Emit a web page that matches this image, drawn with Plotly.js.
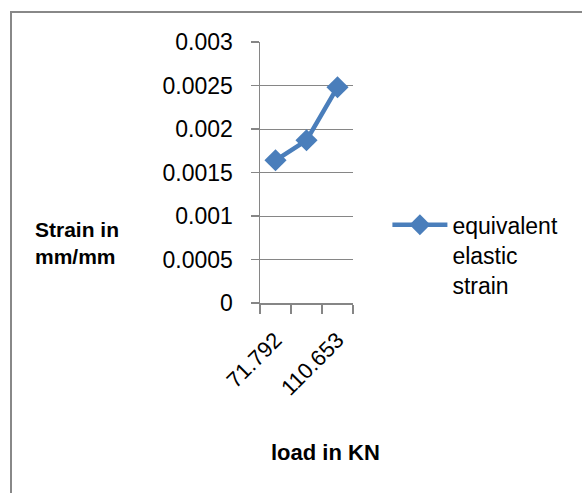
<!DOCTYPE html>
<html>
<head>
<meta charset="utf-8">
<script src="https://cdn.plot.ly/plotly-3.0.1.min.js"></script>
<style>
  html, body { margin: 0; padding: 0; width: 582px; height: 493px; overflow: hidden; background: #fff; }
  #frame { position: absolute; left: 10px; top: 11px; width: 700px; height: 700px; border: 2px solid #888888; box-sizing: border-box; }
  #chart { position: absolute; left: 0; top: 0; width: 582px; height: 493px; }
</style>
</head>
<body>
<div id="frame"></div>
<div id="chart"></div>
<script>
// Data
const loads = ["71.792", "91.223", "110.653"];          // x categories (middle label hidden in the original)
const strain = [0.00164, 0.00187, 0.00248];            // equivalent elastic strain
const seriesName = "equivalent<br>elastic<br>strain";
const yTicks = [0, 0.0005, 0.001, 0.0015, 0.002, 0.0025, 0.003];
const yTickText = ["0", "0.0005", "0.001", "0.0015", "0.002", "0.0025", "0.003"];

const font = "Liberation Sans, Arial, sans-serif";
const blue = "#4A7EBB";
const gray = "#868686";

const trace = {
  type: "scatter",
  mode: "lines+markers",
  x: loads,
  y: strain,
  name: seriesName,
  line: { color: blue, width: 4.5 },
  marker: { symbol: "diamond", size: 17, color: blue, line: { width: 0 } }
};

const layout = {
  width: 582,
  height: 493,
  margin: { l: 260, r: 229, t: 42, b: 190 },
  paper_bgcolor: "rgba(0,0,0,0)",
  plot_bgcolor: "rgba(0,0,0,0)",
  font: { family: font, color: "#000", size: 23 },
  showlegend: true,
  legend: {
    x: 1.37, xanchor: "left", xref: "paper",
    y: 0.382, yanchor: "top",
    font: { family: font, size: 23, color: "#000" },
    itemwidth: 55,
    valign: "top",
    bgcolor: "rgba(0,0,0,0)",
    tracegroupgap: 0
  },
  xaxis: {
    type: "category",
    range: [-0.5, 2.5],
    tickson: "boundaries",
    ticks: "outside",
    ticklen: 9,
    tickcolor: gray,
    tickwidth: 1.5,
    ticklabelstep: 2,
    tickangle: -45,
    ticklabelstandoff: 14,
    showline: true,
    linecolor: gray,
    linewidth: 1.5,
    showgrid: false,
    zeroline: false,
    tickfont: { family: font, size: 22, color: "#000" },
    fixedrange: true
  },
  yaxis: {
    range: [0, 0.003],
    tickmode: "array",
    tickvals: yTicks,
    ticktext: yTickText,
    ticks: "outside",
    ticklen: 8,
    tickcolor: gray,
    tickwidth: 1.5,
    showline: true,
    linecolor: gray,
    linewidth: 1.5,
    showgrid: true,
    gridcolor: gray,
    gridwidth: 1,
    zeroline: false,
    tickfont: { family: font, size: 23, color: "#000" },
    ticklabelstandoff: 13,
    fixedrange: true
  },
  annotations: [
    {
      text: "<b>Strain in<br>mm/mm</b>",
      xref: "paper", yref: "paper",
      x: (33 - 260) / 93, y: (303 - 243) / 261,
      xanchor: "left", yanchor: "middle",
      align: "left",
      showarrow: false,
      font: { family: font, size: 21, color: "#000" }
    },
    {
      text: "<b>load in KN</b>",
      xref: "paper", yref: "paper",
      x: (325 - 260) / 93, y: (303 - 452) / 261,
      xanchor: "center", yanchor: "middle",
      showarrow: false,
      font: { family: font, size: 22, color: "#000" }
    }
  ]
};

Plotly.newPlot("chart", [trace], layout, { displayModeBar: false, staticPlot: true });
</script>
</body>
</html>
